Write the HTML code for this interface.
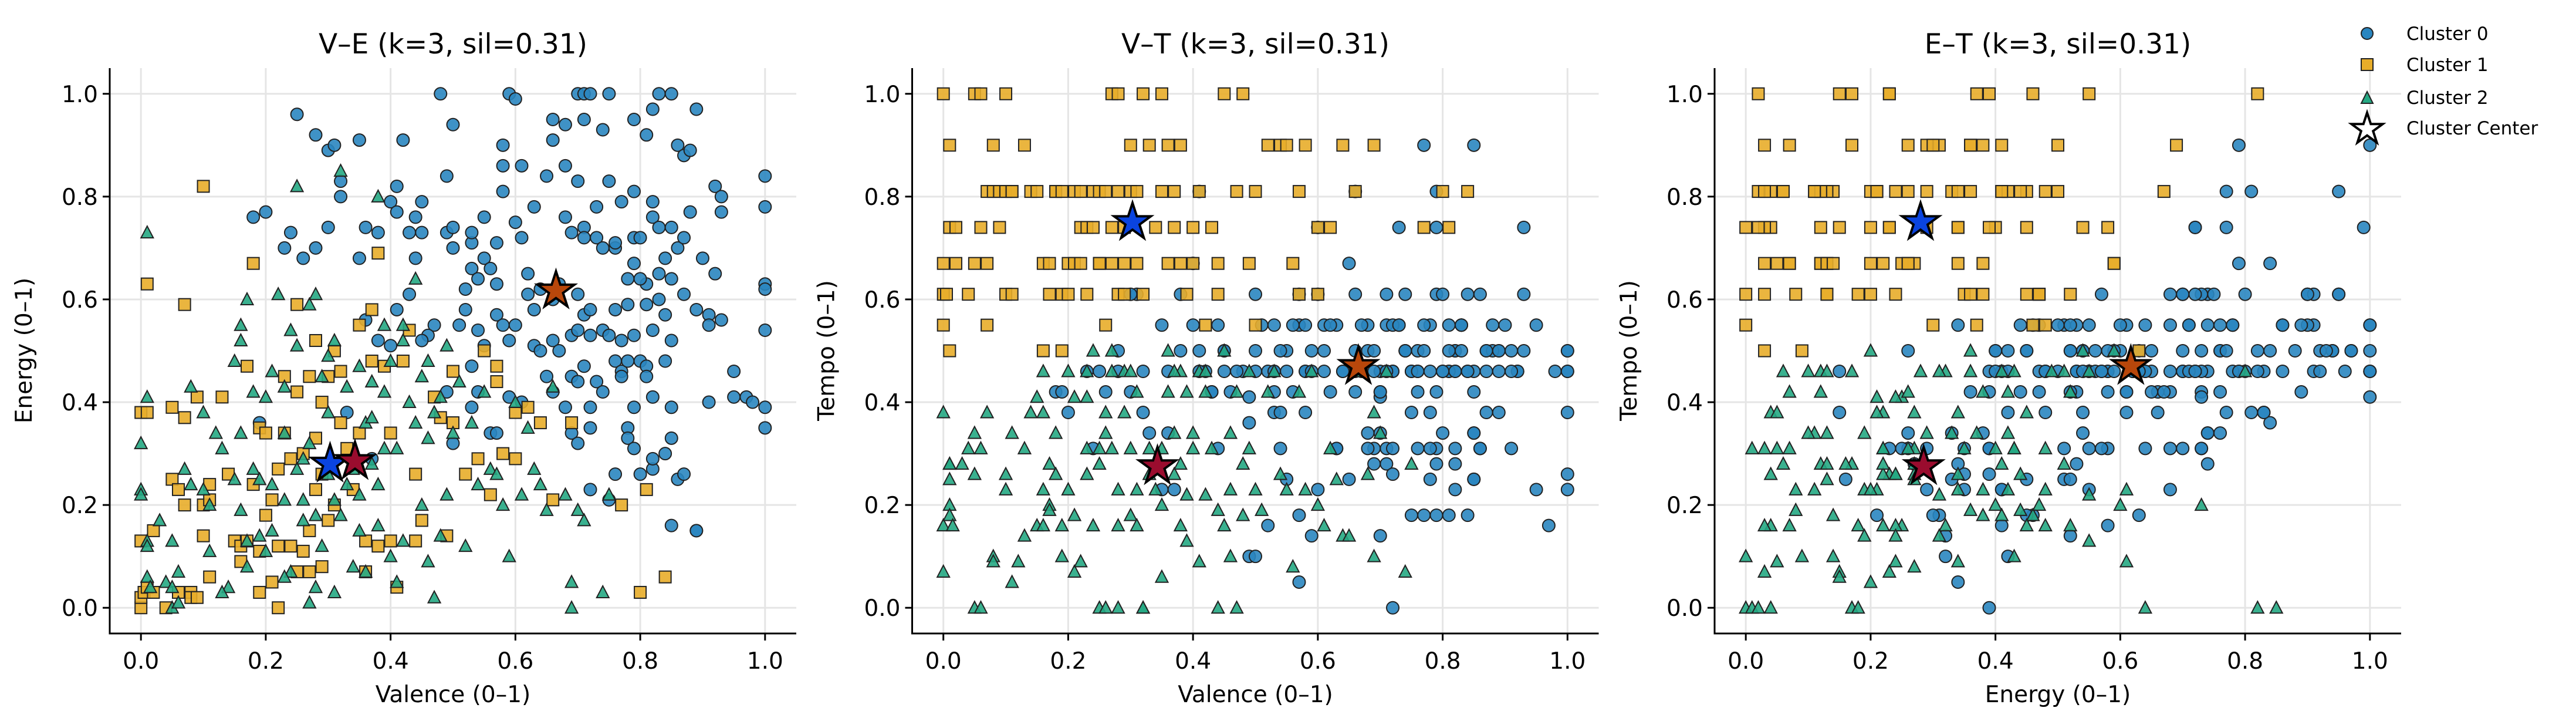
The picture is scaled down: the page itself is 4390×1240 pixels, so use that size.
<!DOCTYPE html>
<html><head><meta charset="utf-8"><style>
html,body{margin:0;padding:0;background:#fff;}
svg{display:block;font-family:"DejaVu Sans","Liberation Sans",sans-serif;}
</style></head><body>
<svg id="chart" width="4390" height="1240" viewBox="0 0 4390 1240" xmlns="http://www.w3.org/2000/svg">
<g id="panels"></g>
<g id="legend">
  <g><circle cx="4034" cy="57" r="10" fill="#2a86c0" stroke="#222" stroke-width="2"/><text x="4101" y="68" font-size="31">Cluster 0</text></g>
  <g><rect x="4024" y="100" width="20" height="20" fill="#e8ad2a" stroke="#222" stroke-width="2"/><text x="4101" y="121" font-size="31">Cluster 1</text></g>
  <g><polygon points="4034,156 4044,176 4024,176" fill="#25a883" stroke="#222" stroke-width="2"/><text x="4101" y="177" font-size="31">Cluster 2</text></g>
  <g><polygon id="legstar" fill="#fff" stroke="#000" stroke-width="4"/><text x="4101" y="229" font-size="31">Cluster Center</text></g>
</g>
</svg>
<script>
// [valence, energy, tempo] per song
const cluster0 = [[0.25,0.96,0.46],[0.28,0.92,0.5],[0.30,0.89,0.42],[0.31,0.90,0.61],[0.32,0.83,0.38],[0.32,0.80,0.46],[0.35,0.91,0.55],[0.18,0.76,0.42],[0.20,0.77,0.38],[0.24,0.73,0.31],[0.23,0.70,0.46],[0.26,0.68,0.42],[0.30,0.74,0.61],[0.28,0.70,0.46],[0.35,0.68,0.23],[0.36,0.74,0.34],[0.38,0.73,0.61],[0.42,0.91,0.46],[0.41,0.82,0.5],[0.40,0.79,0.67],[0.41,0.77,0.81],[0.44,0.76,0.55],[0.45,0.79,0.46],[0.43,0.73,0.42],[0.45,0.73,0.5],[0.44,0.68,0.31],[0.43,0.61,0.42],[0.48,1.0,0.46],[0.50,0.94,0.5],[0.49,0.84,0.36],[0.49,0.73,0.41],[0.50,0.74,0.46],[0.50,0.70,0.61],[0.53,0.71,0.55],[0.53,0.73,0.46],[0.55,0.76,0.5],[0.53,0.66,0.38],[0.54,0.64,0.31],[0.55,0.68,0.46],[0.56,0.66,0.42],[0.57,0.71,0.55],[0.52,0.62,0.46],[0.52,0.58,0.16],[0.54,0.54,0.5],[0.55,0.51,0.25],[0.57,0.57,0.61],[0.58,0.9,0.55],[0.58,0.86,0.46],[0.58,0.81,0.38],[0.59,1.0,0.5],[0.60,0.99,0.74],[0.61,0.86,0.55],[0.60,0.75,0.61],[0.61,0.72,0.46],[0.62,0.65,0.42],[0.63,0.78,0.55],[0.57,0.63,0.18],[0.58,0.55,0.46],[0.59,0.52,0.14],[0.60,0.55,0.23],[0.59,0.41,0.46],[0.61,0.40,0.5],[0.56,0.34,0.55],[0.53,0.47,0.42],[0.54,0.42,0.38],[0.53,0.39,0.46],[0.49,0.42,0.1],[0.51,0.55,0.55],[0.47,0.55,0.46],[0.46,0.53,0.42],[0.45,0.52,0.5],[0.40,0.51,0.55],[0.38,0.52,0.5],[0.36,0.56,0.46],[0.41,0.58,0.46],[0.65,0.84,0.67],[0.66,0.95,0.81],[0.66,0.91,0.61],[0.68,0.94,0.5],[0.68,0.86,0.55],[0.70,0.83,0.46],[0.70,1.0,0.41],[0.71,1.0,0.55],[0.72,1.0,0.46],[0.71,0.95,0.61],[0.74,0.93,0.5],[0.75,1.0,0.46],[0.75,0.83,0.38],[0.77,0.79,0.9],[0.79,0.95,0.61],[0.79,0.81,0.81],[0.82,0.97,0.5],[0.81,0.92,0.46],[0.83,1.0,0.55],[0.85,1.0,0.9],[0.89,0.97,0.5],[0.86,0.90,0.61],[0.87,0.88,0.5],[0.88,0.89,0.55],[0.92,0.82,0.46],[0.93,0.80,0.61],[1.0,0.84,0.5],[1.0,0.78,0.46],[0.68,0.76,0.34],[0.69,0.73,0.31],[0.71,0.74,0.28],[0.71,0.72,0.46],[0.73,0.78,0.55],[0.73,0.72,0.74],[0.74,0.70,0.61],[0.76,0.70,0.5],[0.76,0.71,0.46],[0.79,0.72,0.74],[0.80,0.72,0.61],[0.82,0.76,0.5],[0.82,0.79,0.46],[0.83,0.74,0.55],[0.85,0.74,0.34],[0.86,0.70,0.31],[0.87,0.72,0.46],[0.88,0.77,0.5],[0.90,0.68,0.55],[0.92,0.65,0.46],[0.93,0.77,0.74],[0.81,0.63,0.46],[0.83,0.65,0.5],[0.84,0.68,0.61],[0.85,0.64,0.46],[0.87,0.61,0.38],[0.78,0.64,0.55],[0.79,0.67,0.42],[0.80,0.64,0.46],[0.64,0.62,0.46],[0.66,0.60,0.5],[0.63,0.58,0.31],[0.62,0.61,0.55],[0.67,0.63,0.46],[0.70,0.61,0.42],[0.71,0.57,0.31],[0.72,0.58,0.46],[0.72,0.53,0.55],[0.69,0.53,0.46],[0.70,0.54,0.34],[0.74,0.54,0.5],[0.75,0.53,0.46],[0.76,0.58,0.42],[0.77,0.52,0.55],[0.78,0.59,0.46],[0.79,0.53,0.28],[0.81,0.59,0.5],[0.82,0.54,0.46],[0.83,0.60,0.55],[0.84,0.57,0.46],[0.85,0.52,0.25],[0.89,0.58,0.5],[0.91,0.57,0.46],[0.91,0.55,0.31],[0.93,0.56,0.5],[1.0,0.63,0.5],[1.0,0.62,0.46],[1.0,0.54,0.38],[0.63,0.51,0.31],[0.64,0.50,0.46],[0.66,0.52,0.42],[0.67,0.50,0.55],[0.65,0.45,0.25],[0.66,0.42,0.46],[0.68,0.39,0.31],[0.69,0.45,0.5],[0.70,0.44,0.42],[0.69,0.34,0.28],[0.71,0.47,0.46],[0.72,0.35,0.26],[0.73,0.44,0.55],[0.74,0.42,0.5],[0.76,0.48,0.46],[0.77,0.46,0.18],[0.78,0.48,0.38],[0.77,0.45,0.5],[0.79,0.39,0.31],[0.80,0.48,0.46],[0.81,0.47,0.55],[0.81,0.45,0.18],[0.82,0.41,0.23],[0.84,0.48,0.46],[0.85,0.39,0.42],[0.95,0.46,0.55],[0.95,0.41,0.23],[0.97,0.41,0.16],[0.98,0.40,0.46],[0.91,0.40,0.5],[1.0,0.39,0.26],[1.0,0.35,0.23],[0.70,0.32,0.14],[0.72,0.23,0.31],[0.75,0.21,0.18],[0.76,0.26,0.31],[0.78,0.35,0.31],[0.78,0.33,0.25],[0.79,0.31,0.18],[0.80,0.26,0.34],[0.82,0.27,0.28],[0.82,0.29,0.31],[0.84,0.30,0.18],[0.85,0.33,0.34],[0.86,0.25,0.31],[0.87,0.26,0.5],[0.85,0.16,0.25],[0.89,0.15,0.46],[0.89,0.15,0.38],[0.57,0.34,0.05],[0.72,0.39,0.0],[0.50,0.32,0.1],[0.33,0.38,0.34],[0.37,0.29,0.23],[0.19,0.36,0.42]];
const cluster1 = [[0.0,0.38,0.67],[0.0,0.13,0.61],[0.0,0.0,0.55],[0.0,0.02,1.0],[0.005,0.03,0.61],[0.01,0.63,0.5],[0.01,0.38,0.9],[0.01,0.04,0.74],[0.02,0.15,0.74],[0.02,0.03,0.67],[0.04,0.0,0.61],[0.05,0.39,1.0],[0.05,0.25,0.67],[0.06,0.23,1.0],[0.06,0.03,0.74],[0.07,0.59,0.67],[0.07,0.2,0.81],[0.07,0.37,0.55],[0.08,0.03,0.9],[0.08,0.02,0.81],[0.09,0.02,0.74],[0.09,0.41,0.81],[0.10,0.82,1.0],[0.10,0.2,0.61],[0.10,0.14,0.81],[0.11,0.06,0.81],[0.11,0.24,0.61],[0.11,0.21,0.81],[0.13,0.41,0.9],[0.14,0.26,0.81],[0.15,0.13,0.81],[0.16,0.12,0.67],[0.16,0.09,0.5],[0.17,0.47,0.61],[0.17,0.13,0.67],[0.18,0.67,0.81],[0.18,0.24,0.81],[0.19,0.03,0.5],[0.19,0.35,0.61],[0.19,0.11,0.81],[0.20,0.34,0.67],[0.20,0.18,0.61],[0.21,0.21,0.81],[0.21,0.05,0.67],[0.22,0.0,0.74],[0.22,0.27,0.67],[0.22,0.12,0.81],[0.23,0.45,0.61],[0.23,0.34,0.74],[0.24,0.29,0.81],[0.24,0.12,0.74],[0.25,0.07,0.67],[0.25,0.42,0.81],[0.25,0.59,0.67],[0.26,0.30,0.55],[0.26,0.11,0.81],[0.27,0.45,0.74],[0.27,0.15,1.0],[0.27,0.07,0.67],[0.28,0.52,0.61],[0.28,0.33,0.81],[0.28,0.23,1.0],[0.29,0.40,0.74],[0.29,0.26,0.67],[0.29,0.08,0.61],[0.30,0.45,0.81],[0.30,0.17,0.9],[0.31,0.20,0.67],[0.31,0.50,0.81],[0.32,0.46,1.0],[0.32,0.36,0.61],[0.33,0.31,0.9],[0.34,0.23,0.74],[0.35,0.55,1.0],[0.35,0.34,0.81],[0.36,0.13,0.67],[0.36,0.07,0.9],[0.37,0.58,0.74],[0.37,0.48,0.81],[0.38,0.69,0.9],[0.38,0.12,0.67],[0.39,0.47,0.61],[0.40,0.34,0.74],[0.40,0.13,0.67],[0.41,0.04,0.81],[0.42,0.48,0.55],[0.43,0.54,0.74],[0.44,0.26,0.67],[0.44,0.13,0.61],[0.45,0.17,1.0],[0.47,0.41,0.81],[0.48,0.37,1.0],[0.49,0.14,0.67],[0.50,0.36,0.81],[0.50,0.46,0.55],[0.52,0.26,0.9],[0.54,0.29,0.9],[0.55,0.50,0.9],[0.56,0.22,0.67],[0.57,0.44,0.81],[0.58,0.30,0.9],[0.60,0.29,0.74],[0.60,0.38,0.61],[0.62,0.39,0.74],[0.64,0.36,0.9],[0.66,0.21,0.81],[0.69,0.36,0.9],[0.77,0.2,0.74],[0.80,0.03,0.81],[0.81,0.23,0.74],[0.84,0.06,0.81],[0.57,0.47,0.61]];
const cluster2 = [[0.0,0.32,0.16],[0.0,0.23,0.07],[0.0,0.22,0.38],[0.01,0.73,0.2],[0.01,0.41,0.18],[0.01,0.13,0.25],[0.01,0.12,0.28],[0.01,0.06,0.28],[0.015,0.04,0.16],[0.03,0.17,0.28],[0.04,0.05,0.31],[0.05,0.0,0.0],[0.05,0.04,0.26],[0.05,0.13,0.34],[0.06,0.07,0.31],[0.06,0.01,0.0],[0.07,0.27,0.38],[0.08,0.43,0.1],[0.08,0.24,0.09],[0.10,0.38,0.23],[0.10,0.23,0.26],[0.11,0.11,0.34],[0.11,0.20,0.05],[0.12,0.34,0.09],[0.13,0.31,0.14],[0.14,0.04,0.38],[0.15,0.48,0.16],[0.15,0.25,0.41],[0.16,0.55,0.46],[0.16,0.52,0.16],[0.16,0.19,0.23],[0.16,0.34,0.38],[0.17,0.6,0.2],[0.17,0.13,0.28],[0.17,0.08,0.19],[0.18,0.42,0.34],[0.18,0.27,0.26],[0.19,0.25,0.16],[0.19,0.14,0.1],[0.20,0.41,0.46],[0.20,0.11,0.23],[0.21,0.46,0.18],[0.21,0.24,0.41],[0.21,0.15,0.07],[0.22,0.61,0.09],[0.23,0.43,0.31],[0.23,0.21,0.41],[0.23,0.34,0.26],[0.24,0.07,0.16],[0.24,0.54,0.5],[0.25,0.82,0.0],[0.25,0.51,0.28],[0.25,0.27,0.31],[0.26,0.17,0.0],[0.26,0.21,0.38],[0.27,0.32,0.46],[0.27,0.01,0.31],[0.27,0.59,0.5],[0.28,0.61,0.23],[0.28,0.18,0.16],[0.28,0.04,0.0],[0.29,0.45,0.38],[0.29,0.12,0.46],[0.30,0.38,0.18],[0.30,0.26,0.31],[0.31,0.52,0.42],[0.31,0.21,0.23],[0.31,0.03,0.16],[0.32,0.85,0.0],[0.32,0.18,0.0],[0.33,0.43,0.31],[0.33,0.24,0.26],[0.34,0.08,0.23],[0.35,0.47,0.2],[0.35,0.22,0.31],[0.35,0.15,0.06],[0.36,0.36,0.5],[0.36,0.07,0.42],[0.37,0.44,0.26],[0.37,0.37,0.34],[0.38,0.80,0.46],[0.38,0.24,0.16],[0.38,0.16,0.28],[0.39,0.55,0.13],[0.39,0.42,0.42],[0.39,0.31,0.22],[0.40,0.48,0.31],[0.40,0.1,0.34],[0.41,0.31,0.46],[0.41,0.05,0.09],[0.42,0.55,0.22],[0.42,0.52,0.42],[0.42,0.13,0.46],[0.43,0.40,0.31],[0.44,0.64,0.0],[0.44,0.36,0.19],[0.45,0.45,0.16],[0.45,0.2,0.5],[0.46,0.48,0.23],[0.46,0.33,0.34],[0.46,0.09,0.1],[0.47,0.38,0.42],[0.47,0.02,0.0],[0.48,0.41,0.28],[0.48,0.14,0.18],[0.49,0.22,0.31],[0.49,0.51,0.46],[0.50,0.34,0.23],[0.51,0.44,0.19],[0.52,0.12,0.42],[0.53,0.36,0.46],[0.54,0.24,0.26],[0.55,0.42,0.23],[0.56,0.27,0.08],[0.57,0.26,0.42],[0.58,0.20,0.23],[0.59,0.10,0.46],[0.60,0.40,0.2],[0.61,0.22,0.16],[0.62,0.35,0.31],[0.63,0.27,0.25],[0.64,0.24,0.14],[0.65,0.19,0.14],[0.66,0.43,0.46],[0.68,0.22,0.26],[0.69,0.0,0.1],[0.69,0.05,0.38],[0.70,0.19,0.34],[0.71,0.17,0.46],[0.74,0.03,0.07],[0.75,0.22,0.28],[0.23,0.06,0.46],[0.13,0.03,0.31],[0.3,0.49,0.46],[0.26,0.29,0.34],[0.34,0.27,0.28],[0.37,0.28,0.46]];
const centers = [[0.665,0.617,0.47],[0.303,0.28,0.75],[0.343,0.285,0.275]];
const panelTitles = ["V–E (k=3, sil=0.31)","V–T (k=3, sil=0.31)","E–T (k=3, sil=0.31)"];
const panelXLabels = ["Valence (0–1)","Valence (0–1)","Energy (0–1)"];
const panelYLabels = ["Energy (0–1)","Tempo (0–1)","Tempo (0–1)"];
const panelDims = [[0,1],[0,2],[1,2]];
const tickValues = [0,0.2,0.4,0.6,0.8,1.0];
const tickLabels = ["0.0","0.2","0.4","0.6","0.8","1.0"];

const NS="http://www.w3.org/2000/svg";
const colors=["#2a86c0","#e8ad2a","#25a883"];
const starColors=["#b8470b","#0a44e0","#9a0c2e"];
function mk(tag,attrs,parent){const e=document.createElementNS(NS,tag);for(const k in attrs)e.setAttribute(k,attrs[k]);parent.appendChild(e);return e;}
function starPts(cx,cy,R){const r=R*0.382;let p=[];for(let i=0;i<10;i++){const a=-Math.PI/2+i*Math.PI/5;const rr=i%2?r:R;p.push((cx+rr*Math.cos(a)).toFixed(1)+","+(cy+rr*Math.sin(a)).toFixed(1));}return p.join(" ");}
document.getElementById('legstar').setAttribute('points',starPts(4034,220,28));
const root=document.getElementById('panels');
const TOP=116,BOT=1079,W=1170;
for(let p=0;p<3;p++){
  const L=187+p*1367.5;
  const xs=v=>L+(v+0.05)/1.1*W;
  const ys=v=>BOT-(v+0.05)/1.1*(BOT-TOP);
  const g=mk('g',{},root);
  
  
  const grid=mk('g',{},g);
  
  
  tickValues.forEach((t,i)=>{
    mk('line',{x1:xs(t),x2:xs(t),y1:TOP,y2:BOT,stroke:"#e5e5e5","stroke-width":3},grid);
    mk('line',{x1:L,x2:L+W,y1:ys(t),y2:ys(t),stroke:"#e5e5e5","stroke-width":3},grid);
  });
  const [dx,dy]=panelDims[p];
  const clusters=[cluster0,cluster1,cluster2];
  clusters.forEach((arr,c)=>{
    const cg=mk('g',{},g);
    
    
    arr.forEach(d=>{
      const x=xs(d[dx]),y=ys(d[dy]);let el;
      if(c===0) el=mk('circle',{cx:x,cy:y,r:10.5},cg);
      else if(c===1) el=mk('rect',{x:x-10,y:y-10,width:20,height:20},cg);
      else el=mk('polygon',{points:`${x},${y-11} ${x+10.5},${y+9} ${x-10.5},${y+9}`},cg);
      el.setAttribute('fill',colors[c]);el.setAttribute('fill-opacity','0.9');
      el.setAttribute('stroke','#222');el.setAttribute('stroke-width','2');
      
      
    });
  });
  centers.forEach((cc,c)=>{
    const s=mk('polygon',{points:starPts(xs(cc[dx]),ys(cc[dy]),33),fill:starColors[c],stroke:"#000","stroke-width":4,"stroke-linejoin":"miter"},g);
    
    
  });
  const ax=mk('g',{},g);
  
  
  mk('line',{x1:L,x2:L,y1:TOP,y2:BOT+1.5,stroke:"#000","stroke-width":3},ax);
  mk('line',{x1:L-1.5,x2:L+W,y1:BOT,y2:BOT,stroke:"#000","stroke-width":3},ax);
  tickValues.forEach((t,i)=>{
    mk('line',{x1:xs(t),x2:xs(t),y1:BOT,y2:BOT+12,stroke:"#000","stroke-width":3},ax);
    mk('line',{x1:L-12,x2:L,y1:ys(t),y2:ys(t),stroke:"#000","stroke-width":3},ax);
    const tx=mk('text',{x:xs(t),y:1139,"font-size":39,"text-anchor":"middle"},ax);tx.textContent=tickLabels[i];
    
    
    const ty=mk('text',{x:L-20,y:ys(t)+14,"font-size":39,"text-anchor":"end"},ax);ty.textContent=tickLabels[i];
    
    
  });
  const ti=mk('text',{x:L+W/2,y:91,"font-size":47,"text-anchor":"middle"},g);ti.textContent=panelTitles[p];
  
  
  const xl=mk('text',{x:L+W/2,y:1196,"font-size":39,"text-anchor":"middle"},g);xl.textContent=panelXLabels[p];
  
  
  const yx=L-133;
  const yl=mk('text',{x:yx,y:597,"font-size":39,"text-anchor":"middle",transform:`rotate(-90 ${yx} 597)`},g);yl.textContent=panelYLabels[p];
  
  
}
</script>
</body></html>
